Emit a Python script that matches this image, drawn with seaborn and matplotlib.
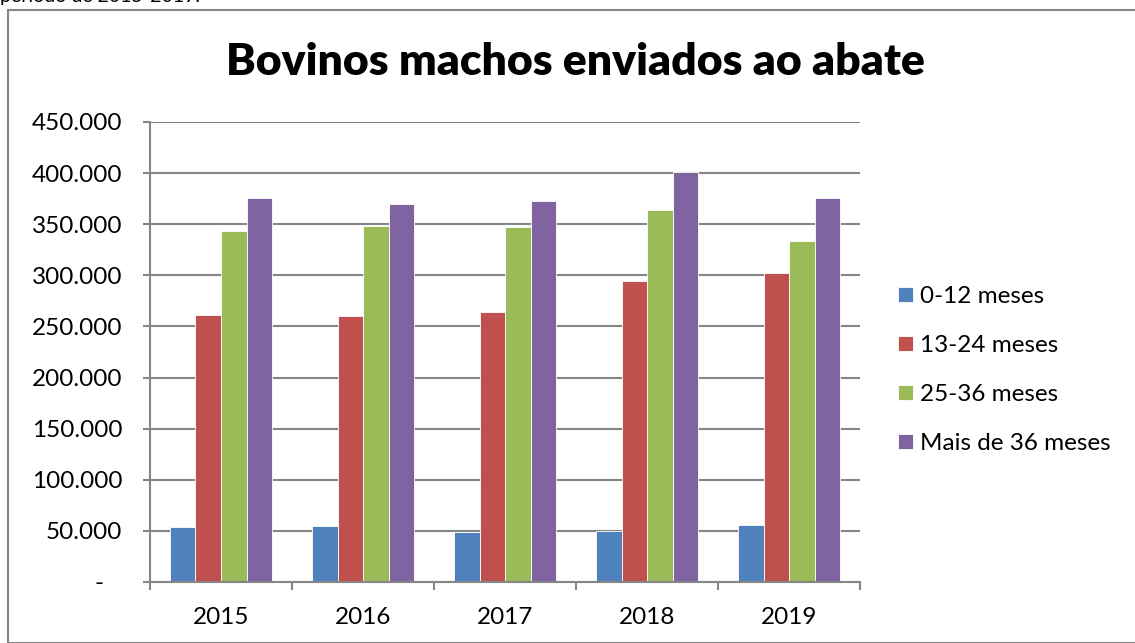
import seaborn as sns
import matplotlib.pyplot as plt
import matplotlib.ticker as mticker
from matplotlib.patches import Rectangle
import pandas as pd

# dados
anos = ["2015", "2016", "2017", "2018", "2019"]
faixas = ["0-12 meses", "13-24 meses", "25-36 meses", "Mais de 36 meses"]
ate_12 = [53500, 54800, 49200, 50200, 55800]
de_13_24 = [260900, 259900, 264500, 294500, 302000]
de_25_36 = [343400, 348600, 347600, 364300, 333300]
mais_36 = [375400, 369800, 373000, 401100, 376000]
cores = ["#4F81BD", "#C0504D", "#9BBB59", "#8064A2"]

series = [ate_12, de_13_24, de_25_36, mais_36]
rows = []
for faixa, valores in zip(faixas, series):
    for ano, v in zip(anos, valores):
        rows.append({"ano": ano, "faixa": faixa, "valor": v})
df = pd.DataFrame(rows)

sns.set_style("white")
plt.rcParams["font.family"] = ["Lato", "DejaVu Sans"]
plt.rcParams["text.color"] = "black"
plt.rcParams["xtick.color"] = "black"
plt.rcParams["ytick.color"] = "black"

fig = plt.figure(figsize=(11.35, 6.43), dpi=100)
ax = fig.add_axes([0.1322, 0.0949, 0.6256, 0.7154])

sns.barplot(data=df, x="ano", y="valor", hue="faixa", hue_order=faixas,
            palette=cores, saturation=1, width=0.72, ax=ax,
            edgecolor="white", linewidth=0.6, errorbar=None)

ax.set_ylim(0, 450000)
ax.set_xlim(-0.5, 4.5)
ax.set_yticks(range(0, 450001, 50000))

def fmt(v, pos):
    if v == 0:
        return "-   "
    return f"{v:,.0f}".replace(",", ".")

ax.yaxis.set_major_formatter(mticker.FuncFormatter(fmt))
ax.yaxis.grid(True, color="#868686", linewidth=1.5)
ax.set_axisbelow(True)

for s in ["top", "right"]:
    ax.spines[s].set_visible(False)
for s in ["left", "bottom"]:
    ax.spines[s].set_color("#868686")
    ax.spines[s].set_linewidth(1.5)

ax.set_xlabel("")
ax.set_ylabel("")
ax.tick_params(axis="y", length=5, width=1.5, color="#868686", pad=15, labelsize=17.5,
               left=True, labelcolor="black")
ax.tick_params(axis="x", which="major", length=0, pad=18, labelsize=17.5, labelcolor="black")
ax.set_xticks([i - 0.5 for i in range(6)], minor=True)
ax.tick_params(axis="x", which="minor", length=6, width=1.5, color="#868686", bottom=True)

ax.legend(loc="center left", bbox_to_anchor=(0.783, 0.4246), bbox_transform=fig.transFigure,
          frameon=False, fontsize=17.5, handlelength=0.6, handleheight=0.6,
          handletextpad=0.3, labelspacing=1.15, borderaxespad=0)

fig.text(0.507, 0.903, "Bovinos machos enviados ao abate", ha="center", va="center",
         fontsize=32, fontweight="heavy")

# texto cortado acima do quadro
fig.text(0.0, 1 - 2 / 643, "período de 2015-2019.", ha="left", va="baseline", fontsize=14)

fig.patches.append(Rectangle((8 / 1135, 0), 1.1, 1 - 10 / 643, transform=fig.transFigure,
                             fill=False, edgecolor="#868686", linewidth=1.5, clip_on=False))

fig.savefig("out.png", dpi=100)
